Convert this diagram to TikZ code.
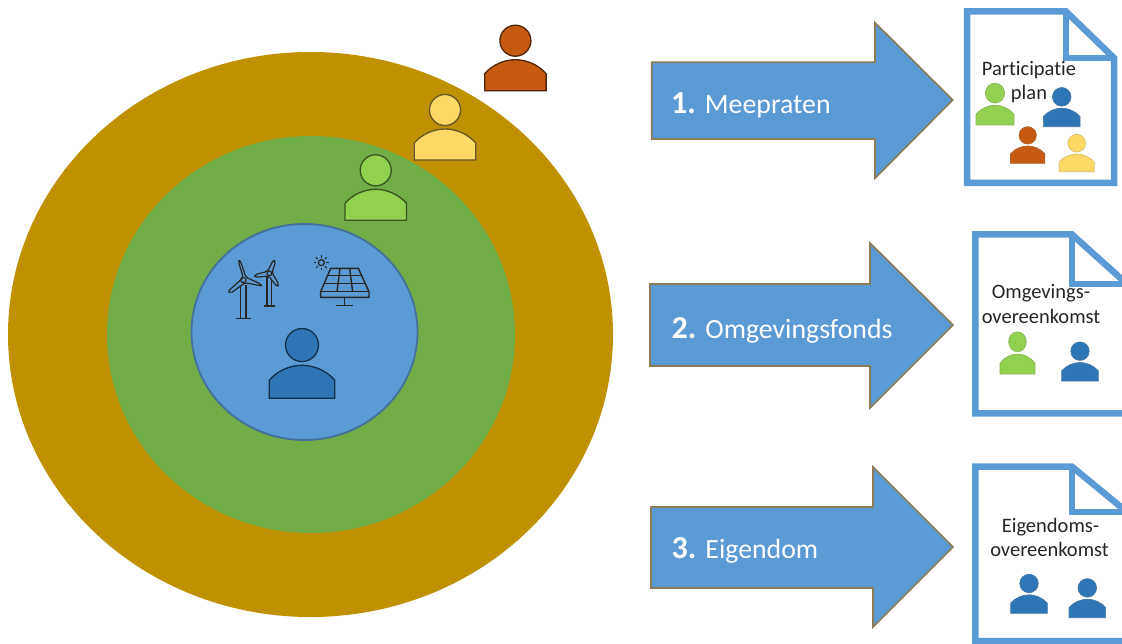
\documentclass[tikz,border=0pt]{standalone}
\usepackage{fontspec}
\setmainfont[Ligatures=NoCommon]{Carlito}
\definecolor{ringO}{HTML}{BF9000}
\definecolor{ringM}{HTML}{70AD47}
\definecolor{ringI}{HTML}{5B9BD5}
\definecolor{ringIline}{HTML}{41719C}
\definecolor{pBlue}{HTML}{2E75B6}
\definecolor{pGreen}{HTML}{92D050}
\definecolor{pYellow}{HTML}{FFD966}
\definecolor{pBrown}{HTML}{C55A11}
\definecolor{arrowLine}{HTML}{8B7B58}
\definecolor{docText}{HTML}{262626}
\tikzset{
  personmain/.style={draw=#1!40!black,line width=1.3pt,fill=#1},
  persondoc/.style={draw=#1!70!gray,line width=.7pt,fill=#1},
  bigarrow/.style={draw=arrowLine,line width=1.6pt,fill=ringI,miter limit=10},
  arrowlabel/.style={text=white,font=\fontsize{27.8}{30}\selectfont,anchor=base west,inner sep=0pt},
  doclabel/.style={text=docText,font=\fontsize{20.5}{22}\selectfont,anchor=base,inner sep=0pt},
  docsheet/.style={draw=ringI,line width=6.5pt,miter limit=3,fill=white},
  docfold/.style={draw=ringI,line width=6.5pt,miter limit=3},
  iconline/.style={draw=black!85,line width=1.2pt,line join=round},
}
% [vertical stretch] x, bottom y, width, colour, style
\newcommand{\personfig}[6][1]{%
  \begin{scope}[shift={(#2,#3)},xscale=#4/61.4,yscale=#1*#4/61.4]
    \path[#6=#5] (-30.7,0) -- (-30.7,-17) .. controls (-23,-26) and (-11,-31) .. (0,-31)
      .. controls (11,-31) and (23,-26) .. (30.7,-17) -- (30.7,0) -- cycle;
    \path[#6=#5] (0,-50) circle (15.5);
  \end{scope}}
\begin{document}
\begin{tikzpicture}[x=1pt,y=-1pt]
\useasboundingbox (0,0) rectangle (1122,644);
\clip (0,0) rectangle (1122,644);
% rings
\path[fill=ringO] (310.5,334.5) ellipse [x radius=302.5,y radius=282.5];
\path[fill=ringM] (311,334.5) ellipse [x radius=204,y radius=198.5];
\path[fill=ringI,draw=ringIline,line width=1.8pt] (304.5,332) ellipse [x radius=113,y radius=108];
% icons in the inner ring
\begin{scope}[shift={(190,220)},scale=1/3]
  \draw[iconline] (152,195) -- (152,295) (168,195) -- (168,295);
  \draw[iconline,line width=1.6pt] (137,295) -- (183,295);
  \draw[iconline,fill=ringI,rounded corners=2pt] (160,172) -- (145,125) -- (150,120) -- (168,172) -- (212,192) -- (215,198) -- (165,188) -- (122,220) -- (114,214) -- (152,180) -- cycle;
  \draw[iconline] (160,180) circle (8);
  \draw[iconline] (231,172) -- (231,258) (244,172) -- (244,258);
  \draw[iconline,line width=1.6pt] (221,258) -- (255,258);
  \draw[iconline,fill=ringI,rounded corners=2pt] (233,154) -- (250,120) -- (257,124) -- (246,158) -- (267,194) -- (261,200) -- (236,168) -- (195,172) -- (194,164) -- cycle;
  \draw[iconline] (238,160) circle (7);
  \draw[iconline,line width=1.4pt] (422,145) -- (505,145) -- (537,215) -- (537,232) -- (392,232) -- (392,215) -- cycle;
  \draw[iconline,line width=1.4pt] (392,215) -- (537,215) (414,166) -- (515,166) (404,190) -- (526,190);
  \draw[iconline,line width=1.4pt] (450,145) -- (441,215) (479,145) -- (488,215);
  \draw[iconline,line width=1.4pt] (463,232) -- (463,257) (439,257) -- (490,257);
  \draw[iconline] (394,128) circle (9);
  \foreach \a in {0,45,...,315}{\draw[iconline,line width=1pt] (394,128) ++(\a:15) -- ++(\a:8);}
\end{scope}
% people on the rings
\personfig{515.4}{90.7}{61.4}{pBrown}{personmain}
\personfig{445}{160}{61.4}{pYellow}{personmain}
\personfig{375.7}{220.3}{61.4}{pGreen}{personmain}
\personfig{302}{398.3}{65.4}{pBlue}{personmain}
% arrows
\path[bigarrow] (651.7,62.3) -- (875,62.3) -- (875,22.7) -- (952.7,100) -- (875,178.3) -- (875,139) -- (651.7,139) -- cycle;
\path[bigarrow] (650,284) -- (870,284) -- (870,243) -- (953,325) -- (870,408) -- (870,366) -- (650,366) -- cycle;
\path[bigarrow] (651,507) -- (873,507) -- (873,467) -- (953,547) -- (873,627) -- (873,588) -- (651,588) -- cycle;
\node[arrowlabel] (lab1) at (671,113.5) {\textbf{\fontsize{32}{34}\selectfont 1.}\hspace{9pt}Meepraten};
\node[arrowlabel] (lab2) at (671.5,338) {\textbf{\fontsize{32}{34}\selectfont 2.}\hspace{9pt}Omgevingsfonds};
\node[arrowlabel] (lab3) at (671.5,558) {\textbf{\fontsize{32}{34}\selectfont 3.}\hspace{9pt}Eigendom};
% document 1
\path[docsheet] (967,11.5) -- (1066,11.5) -- (1114,58) -- (1114,183) -- (967,183) -- cycle;
\path[docfold] (1066,11.5) -- (1066,58) -- (1114,58);
\node[doclabel] (d1a) at (1029,75.5) {Participatie};
\node[doclabel] (d1b) at (1029,100) {plan};
\personfig[1.03]{995}{125}{38}{pGreen}{persondoc}
\personfig{1061.7}{126.7}{36.7}{pBlue}{persondoc}
\personfig{1027.7}{163.3}{34.3}{pBrown}{persondoc}
\personfig{1076.7}{171.7}{35}{pYellow}{persondoc}
% document 2
\path[docsheet] (975.3,234.5) -- (1072,234.5) -- (1127,284) -- (1127,413.3) -- (975.3,413.3) -- cycle;
\path[docfold] (1072,234.5) -- (1072,284) -- (1127,284);
\node[doclabel] (d2a) at (1041,299) {Omgevings-};
\node[doclabel] (d2b) at (1041,323.5) {overeenkomst};
\personfig[1.13]{1017.5}{374}{35}{pGreen}{persondoc}
\personfig{1080}{381}{36.6}{pBlue}{persondoc}
% document 3
\path[docsheet] (975.3,466.7) -- (1072,466.7) -- (1127,512) -- (1127,641) -- (975.3,641) -- cycle;
\path[docfold] (1072,466.7) -- (1072,512) -- (1127,512);
\node[doclabel] (d3a) at (1050.5,532) {Eigendoms-};
\node[doclabel] (d3b) at (1049.5,556.5) {overeenkomst};
\personfig{1029}{613.3}{36.6}{pBlue}{persondoc}
\personfig{1087.3}{617.7}{36.6}{pBlue}{persondoc}
\end{tikzpicture}
\end{document}
